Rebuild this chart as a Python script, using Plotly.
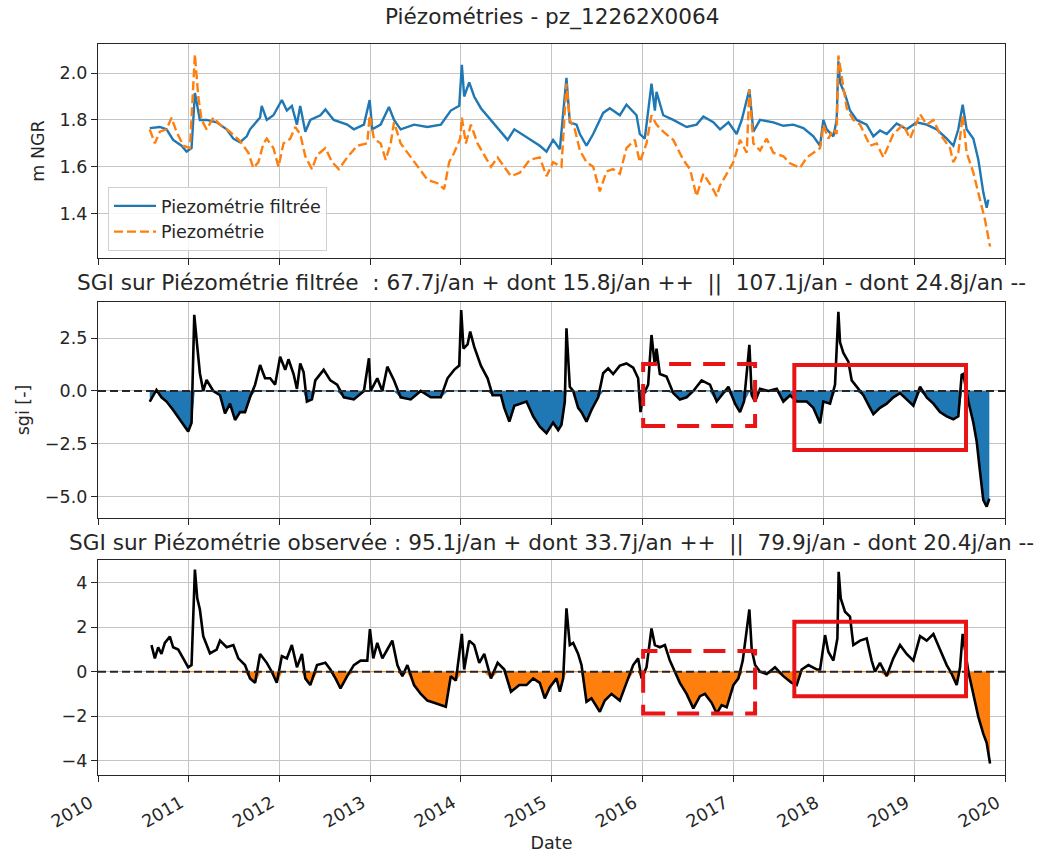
import plotly.graph_objects as go
from datetime import datetime

# ---------------- data (decimal years / values) ----------------
t_filt = [2010.571, 2010.682, 2010.756, 2010.829, 2010.922, 2010.977, 2011.032, 2011.069, 2011.124, 2011.198,
          2011.309, 2011.419, 2011.493, 2011.567, 2011.641, 2011.677, 2011.788, 2011.806, 2011.862, 2011.935,
          2012.028, 2012.083, 2012.138, 2012.194, 2012.230, 2012.286, 2012.341, 2012.452, 2012.507, 2012.599,
          2012.747, 2012.820, 2012.931, 2012.994, 2013.023, 2013.115, 2013.207, 2013.263, 2013.336, 2013.484,
          2013.631, 2013.779, 2013.889, 2013.982, 2014.011, 2014.037, 2014.092, 2014.147, 2014.221, 2014.332,
          2014.442, 2014.516, 2014.590, 2014.651, 2014.761, 2014.871, 2014.945, 2015.018, 2015.092, 2015.165,
          2015.202, 2015.276, 2015.313, 2015.386, 2015.460, 2015.570, 2015.643, 2015.754, 2015.827, 2015.938,
          2015.974, 2016.029, 2016.103, 2016.140, 2016.158, 2016.232, 2016.342, 2016.489, 2016.599, 2016.673,
          2016.783, 2016.857, 2016.949, 2017.040, 2017.096, 2017.180, 2017.224, 2017.298, 2017.445, 2017.555,
          2017.665, 2017.776, 2017.886, 2017.960, 2017.996, 2018.033, 2018.107, 2018.143, 2018.162, 2018.180,
          2018.235, 2018.290, 2018.364, 2018.474, 2018.548, 2018.621, 2018.695, 2018.805, 2018.915, 2019.026,
          2019.136, 2019.246, 2019.357, 2019.430, 2019.485, 2019.533, 2019.577, 2019.651, 2019.706, 2019.761,
          2019.798, 2019.816]
piezo_filt = [1.765, 1.77, 1.76, 1.715, 1.69, 1.665, 1.68, 1.915, 1.80, 1.80,
              1.79, 1.76, 1.72, 1.705, 1.73, 1.76, 1.81, 1.86, 1.80, 1.82,
              1.885, 1.84, 1.86, 1.78, 1.86, 1.75, 1.80, 1.82, 1.845, 1.80,
              1.78, 1.76, 1.78, 1.885, 1.76, 1.78, 1.855, 1.80, 1.76, 1.78,
              1.77, 1.78, 1.84, 1.86, 2.035, 1.90, 1.96, 1.90, 1.85, 1.80,
              1.75, 1.715, 1.76, 1.745, 1.715, 1.69, 1.665, 1.715, 1.675, 1.98,
              1.79, 1.78, 1.74, 1.69, 1.74, 1.83, 1.85, 1.82, 1.865, 1.82,
              1.74, 1.72, 1.955, 1.84, 1.92, 1.82, 1.80, 1.77, 1.78, 1.815,
              1.79, 1.76, 1.79, 1.74, 1.80, 1.93, 1.75, 1.80, 1.79, 1.775,
              1.78, 1.765, 1.73, 1.69, 1.80, 1.76, 1.73, 1.80, 2.05, 1.96,
              1.91, 1.84, 1.80, 1.78, 1.73, 1.755, 1.74, 1.785, 1.76, 1.79,
              1.78, 1.76, 1.72, 1.69, 1.76, 1.865, 1.76, 1.72, 1.63, 1.49,
              1.425, 1.46]

t_obs = [2010.571, 2010.627, 2010.682, 2010.756, 2010.811, 2010.866, 2010.940, 2011.014, 2011.069, 2011.106,
         2011.143, 2011.198, 2011.272, 2011.346, 2011.456, 2011.567, 2011.659, 2011.714, 2011.770, 2011.825,
         2011.862, 2011.935, 2011.991, 2012.046, 2012.120, 2012.175, 2012.230, 2012.286, 2012.359, 2012.415,
         2012.507, 2012.581, 2012.654, 2012.747, 2012.857, 2012.968, 2012.994, 2013.041, 2013.115, 2013.171,
         2013.226, 2013.263, 2013.336, 2013.410, 2013.521, 2013.631, 2013.742, 2013.816, 2013.871, 2013.926,
         2013.993, 2014.011, 2014.055, 2014.111, 2014.184, 2014.332, 2014.406, 2014.479, 2014.553, 2014.651,
         2014.761, 2014.871, 2014.945, 2015.018, 2015.110, 2015.165, 2015.202, 2015.257, 2015.313, 2015.386,
         2015.460, 2015.533, 2015.607, 2015.680, 2015.754, 2015.827, 2015.919, 2015.974, 2016.048, 2016.103,
         2016.158, 2016.232, 2016.342, 2016.452, 2016.526, 2016.599, 2016.673, 2016.765, 2016.820, 2016.857,
         2016.930, 2017.004, 2017.077, 2017.151, 2017.180, 2017.224, 2017.298, 2017.371, 2017.445, 2017.555,
         2017.629, 2017.739, 2017.813, 2017.886, 2017.960, 2017.996, 2018.051, 2018.107, 2018.143, 2018.162,
         2018.199, 2018.254, 2018.327, 2018.401, 2018.511, 2018.585, 2018.658, 2018.768, 2018.879, 2018.952,
         2019.063, 2019.136, 2019.210, 2019.283, 2019.393, 2019.430, 2019.485, 2019.533, 2019.577, 2019.651,
         2019.724, 2019.779, 2019.835]
piezo_obs = [1.76, 1.70, 1.75, 1.76, 1.81, 1.75, 1.69, 1.68, 2.08, 1.90,
             1.80, 1.76, 1.81, 1.78, 1.75, 1.71, 1.66, 1.595, 1.62, 1.70,
             1.72, 1.68, 1.60, 1.70, 1.72, 1.77, 1.74, 1.645, 1.59, 1.65,
             1.68, 1.62, 1.59, 1.64, 1.69, 1.70, 1.82, 1.72, 1.70, 1.63,
             1.70, 1.79, 1.70, 1.66, 1.60, 1.545, 1.53, 1.505, 1.62, 1.66,
             1.72, 1.81, 1.70, 1.78, 1.70, 1.60, 1.64, 1.60, 1.56, 1.575,
             1.63, 1.64, 1.56, 1.62, 1.60, 1.955, 1.80, 1.76, 1.67, 1.62,
             1.60, 1.495, 1.58, 1.59, 1.57, 1.68, 1.715, 1.62, 1.70, 1.82,
             1.78, 1.75, 1.715, 1.63, 1.59, 1.475, 1.57, 1.515, 1.475, 1.52,
             1.57, 1.62, 1.715, 1.66, 1.93, 1.70, 1.67, 1.72, 1.66, 1.645,
             1.615, 1.595, 1.64, 1.66, 1.68, 1.78, 1.72, 1.76, 1.74, 2.075,
             1.98, 1.85, 1.80, 1.78, 1.69, 1.70, 1.64, 1.74, 1.78, 1.72,
             1.825, 1.78, 1.80, 1.74, 1.68, 1.62, 1.66, 1.82, 1.66, 1.575,
             1.46, 1.375, 1.26]

t_sgi_filt = [2010.571, 2010.645, 2010.700, 2010.756, 2010.829, 2010.903, 2010.959, 2010.995, 2011.032, 2011.062,
              2011.088, 2011.124, 2011.161, 2011.198, 2011.272, 2011.346, 2011.401, 2011.456, 2011.512, 2011.567,
              2011.622, 2011.677, 2011.733, 2011.788, 2011.843, 2011.899, 2011.954, 2012.009, 2012.065, 2012.101,
              2012.157, 2012.194, 2012.230, 2012.267, 2012.304, 2012.359, 2012.396, 2012.488, 2012.562, 2012.636,
              2012.710, 2012.820, 2012.931, 2012.986, 2013.005, 2013.078, 2013.134, 2013.189, 2013.263, 2013.336,
              2013.447, 2013.558, 2013.668, 2013.779, 2013.853, 2013.926, 2013.982, 2014.004, 2014.029, 2014.074,
              2014.103, 2014.147, 2014.221, 2014.295, 2014.350, 2014.442, 2014.479, 2014.535, 2014.590, 2014.651,
              2014.724, 2014.798, 2014.871, 2014.945, 2015.018, 2015.074, 2015.110, 2015.147, 2015.165, 2015.202,
              2015.239, 2015.294, 2015.331, 2015.386, 2015.441, 2015.515, 2015.570, 2015.625, 2015.680, 2015.754,
              2015.827, 2015.901, 2015.956, 2015.982, 2016.011, 2016.066, 2016.103, 2016.140, 2016.158, 2016.195,
              2016.268, 2016.342, 2016.415, 2016.489, 2016.563, 2016.654, 2016.746, 2016.820, 2016.893, 2016.949,
              2017.022, 2017.077, 2017.121, 2017.180, 2017.206, 2017.243, 2017.298, 2017.390, 2017.482, 2017.555,
              2017.629, 2017.702, 2017.813, 2017.886, 2017.960, 2017.996, 2018.070, 2018.125, 2018.162, 2018.180,
              2018.217, 2018.272, 2018.309, 2018.364, 2018.438, 2018.511, 2018.548, 2018.621, 2018.695, 2018.768,
              2018.842, 2018.915, 2018.989, 2019.063, 2019.136, 2019.210, 2019.283, 2019.357, 2019.430, 2019.485,
              2019.522, 2019.540, 2019.596, 2019.651, 2019.688, 2019.724, 2019.761, 2019.798, 2019.827]
sgi_filt = [-0.5, 0.05, -0.3, -0.5, -0.9, -1.37, -1.69, -1.92, -1.5, 3.6,
            2.41, 0.84, 0.0, 0.52, 0.0, -0.2, -1.06, -0.6, -1.37, -1.0,
            -1.0, -0.3, 0.3, 1.23, 0.6, 0.6, 0.3, 1.62, 1.0, 1.5,
            0.8, 0.1, 1.3, 0.9, -0.5, -0.4, 0.5, 1.0, 0.5, 0.3,
            -0.3, -0.4, 0.0, 1.55, 0.0, 0.6, 0.0, 1.15, 0.5, -0.3,
            -0.4, 0.0, -0.3, -0.3, 0.6, 1.0, 1.2, 3.83, 2.0, 2.2,
            2.81, 2.1, 1.2, 0.6, -0.2, -0.2, -0.8, -1.45, -0.7, -0.6,
            -0.5, -1.2, -1.69, -2.0, -1.5, -1.85, -1.6, -0.5, 2.97, 0.2,
            0.0, -0.8, -1.0, -1.45, -0.9, -0.3, 0.84, 1.07, 0.8, 1.2,
            1.3, 1.1, 0.6, -1.0, -0.2, 0.3, 2.65, 1.2, 2.0, 0.8,
            0.68, -0.1, -0.4, -0.3, 0.0, 0.5, 0.3, -0.5, -0.1, 0.2,
            -0.6, -1.0, -0.5, 2.18, -0.2, -0.5, 0.1, 0.0, 0.1, -0.5,
            -0.2, -0.5, -0.5, -0.8, -1.53, -0.5, -0.6, 0.3, 3.75, 2.3,
            1.8, 1.39, 0.5, 0.2, -0.2, -0.8, -1.1, -0.8, -0.6, -0.3,
            -0.1, -0.4, -0.7, 0.2, -0.3, -0.6, -1.0, -1.2, -1.34, -1.2,
            0.76, 0.8, -0.5, -1.5, -2.4, -3.8, -5.16, -5.47, -5.1]

t_sgi_obs = [2010.590, 2010.627, 2010.664, 2010.700, 2010.737, 2010.793, 2010.829, 2010.885, 2010.940, 2010.995,
             2011.032, 2011.069, 2011.095, 2011.124, 2011.161, 2011.235, 2011.309, 2011.346, 2011.419, 2011.493,
             2011.548, 2011.622, 2011.677, 2011.733, 2011.788, 2011.862, 2011.917, 2011.972, 2012.028, 2012.083,
             2012.138, 2012.194, 2012.249, 2012.286, 2012.341, 2012.415, 2012.507, 2012.562, 2012.618, 2012.673,
             2012.747, 2012.820, 2012.894, 2012.968, 2012.997, 2013.034, 2013.078, 2013.134, 2013.189, 2013.244,
             2013.300, 2013.355, 2013.410, 2013.484, 2013.558, 2013.631, 2013.705, 2013.779, 2013.834, 2013.889,
             2013.945, 2014.011, 2014.037, 2014.092, 2014.147, 2014.203, 2014.258, 2014.332, 2014.406, 2014.479,
             2014.553, 2014.645, 2014.724, 2014.798, 2014.871, 2014.926, 2014.982, 2015.055, 2015.092, 2015.129,
             2015.165, 2015.202, 2015.239, 2015.294, 2015.331, 2015.386, 2015.441, 2015.533, 2015.588, 2015.662,
             2015.754, 2015.827, 2015.901, 2015.956, 2015.993, 2016.048, 2016.103, 2016.140, 2016.195, 2016.250,
             2016.305, 2016.360, 2016.415, 2016.489, 2016.563, 2016.636, 2016.691, 2016.765, 2016.820, 2016.875,
             2016.930, 2017.004, 2017.059, 2017.107, 2017.180, 2017.206, 2017.243, 2017.298, 2017.371, 2017.463,
             2017.555, 2017.647, 2017.702, 2017.757, 2017.831, 2017.923, 2017.960, 2018.015, 2018.051, 2018.107,
             2018.151, 2018.165, 2018.188, 2018.235, 2018.290, 2018.327, 2018.401, 2018.474, 2018.529, 2018.566,
             2018.621, 2018.695, 2018.768, 2018.842, 2018.915, 2018.989, 2019.063, 2019.136, 2019.210, 2019.283,
             2019.357, 2019.412, 2019.467, 2019.504, 2019.533, 2019.596, 2019.651, 2019.706, 2019.761, 2019.798,
             2019.835]
sgi_obs = [1.2, 0.6, 1.1, 0.8, 1.3, 1.58, 1.1, 1.0, 0.6, 0.2,
           0.3, 4.6, 3.3, 2.8, 1.6, 0.83, 1.0, 1.4, 1.1, 1.2,
           0.6, 0.3, -0.3, -0.5, 0.8, 0.4, 0.0, -0.5, 0.7, 0.6,
           1.2, 0.2, 0.8, -0.3, -0.6, 0.3, 0.4, 0.1, -0.3, -0.75,
           -0.2, 0.3, 0.5, 0.5, 1.92, 0.6, 1.3, 0.6, 1.0, 1.4,
           0.3, -0.2, 0.3, -0.6, -1.0, -1.3, -1.4, -1.5, -1.58, -0.2,
           -0.4, 1.7, 0.1, 1.4, 1.2, 0.4, 0.8, -0.3, 0.4, 0.1,
           -0.9, -0.6, -0.6, -0.3, -0.5, -1.2, -0.7, -0.3, -0.9, -0.3,
           2.85, 1.2, 1.3, 0.8, 0.3, -1.35, -1.2, -1.8, -1.3, -1.0,
           -1.3, -0.5, 0.3, 0.6, -0.3, 0.2, 1.95, 1.2, 1.1, 1.2,
           0.5, 0.0, -0.5, -1.0, -1.65, -1.1, -1.0, -1.4, -1.88, -1.5,
           -1.6, -0.6, -0.3, 0.5, 2.8, 1.0, 0.3, 0.0, -0.1, 0.2,
           -0.2, -0.5, -0.6, 0.1, 0.3, 0.1, 0.1, 1.65, 0.9, 0.5,
           1.5, 4.5, 3.3, 2.7, 2.48, 1.2, 1.4, 1.5, 0.5, 0.0,
           0.4, -0.2, 0.6, 1.2, 0.8, 0.5, 1.6, 1.4, 1.7, 1.0,
           0.3, -0.1, -0.6, 0.2, 1.7, 0.0, -1.0, -2.03, -2.8, -3.2,
           -4.13]

TITLE_TOP = "Piézométries - pz_12262X0064"
TITLE_MID = "SGI sur Piézométrie filtrée  : 67.7j/an + dont 15.8j/an ++  ||  107.1j/an - dont 24.8j/an --"
TITLE_BOT = "SGI sur Piézométrie observée : 95.1j/an + dont 33.7j/an ++  ||  79.9j/an - dont 20.4j/an --"


def to_date(y):
    yr = int(y)
    start = datetime(yr, 1, 1)
    end = datetime(yr + 1, 1, 1)
    return start + (end - start) * (y - yr)


C0 = "#1f77b4"
C1 = "#ff7f0e"
RED = "rgb(232,20,22)"
INK = "#262626"
W, H = 1038, 853
FONT = "DejaVu Sans"
FS = 17.5
FT = 21.6

d_filt = [to_date(t) for t in t_filt]
d_obs = [to_date(t) for t in t_obs]
d_sf = [to_date(t) for t in t_sgi_filt]
d_so = [to_date(t) for t in t_sgi_obs]

fig = go.Figure()
# top panel
fig.add_trace(go.Scatter(x=d_filt, y=piezo_filt, mode="lines", name="Piezométrie filtrée",
                         line=dict(color=C0, width=2.4), xaxis="x", yaxis="y"))
fig.add_trace(go.Scatter(x=d_obs, y=piezo_obs, mode="lines", name="Piezométrie",
                         line=dict(color=C1, width=2.4, dash="9px,4px"), xaxis="x", yaxis="y"))
# middle panel
fig.add_trace(go.Scatter(x=d_sf, y=[min(v, 0) for v in sgi_filt], mode="lines", fill="tozeroy",
                         fillcolor=C0, line=dict(color=C0, width=1), showlegend=False,
                         xaxis="x2", yaxis="y2", hoverinfo="skip"))
fig.add_trace(go.Scatter(x=d_sf, y=sgi_filt, mode="lines", line=dict(color="black", width=2.6),
                         showlegend=False, xaxis="x2", yaxis="y2"))
# bottom panel
fig.add_trace(go.Scatter(x=d_so, y=[min(v, 0) for v in sgi_obs], mode="lines", fill="tozeroy",
                         fillcolor=C1, line=dict(color=C1, width=1), showlegend=False,
                         xaxis="x3", yaxis="y3", hoverinfo="skip"))
fig.add_trace(go.Scatter(x=d_so, y=sgi_obs, mode="lines", line=dict(color="black", width=2.6),
                         showlegend=False, xaxis="x3", yaxis="y3"))


def px(x):
    return x / W


def py(y):
    return 1 - y / H


XD = [px(98), px(1005)]


def ydom(top, bot):
    return [py(bot), py(top)]


axis_common = dict(showgrid=True, gridcolor="#c4c4c4", gridwidth=1, showline=True, mirror=True,
                   linecolor=INK, linewidth=1.3, ticks="outside", ticklen=6, tickcolor=INK,
                   zeroline=False, automargin=False, tickfont=dict(family=FONT, size=FS, color=INK))
xcommon = dict(axis_common, type="date", range=["2010-01-01", "2020-01-01"], dtick="M12",
               tickformat="%Y", domain=XD)
tfont = dict(family=FONT, size=FS, color=INK)

fig.update_layout(
    width=W, height=H, autosize=False,
    margin=dict(l=0, r=0, t=0, b=0),
    paper_bgcolor="white", plot_bgcolor="white",
    font=dict(family=FONT, size=FS, color=INK),
    xaxis=dict(xcommon, anchor="y", showticklabels=False),
    xaxis2=dict(xcommon, anchor="y2", showticklabels=False, matches="x"),
    xaxis3=dict(xcommon, anchor="y3", matches="x", tickangle=-30,
                ticklabelshift=-8, ticklabelstandoff=4,
                title=dict(text="Date", font=tfont, standoff=14)),
    yaxis=dict(axis_common, anchor="x", domain=ydom(44, 258), range=[1.211, 2.124],
               tickvals=[1.4, 1.6, 1.8, 2.0], ticktext=["1.4", "1.6", "1.8", "2.0"],
               title=dict(text="m NGR", font=tfont, standoff=10)),
    yaxis2=dict(axis_common, anchor="x2", domain=ydom(302, 518), range=[-6.01, 4.21],
                tickvals=[-5, -2.5, 0, 2.5], ticktext=["\u22125.0", "\u22122.5", "0.0", "2.5"],
                title=dict(text="sgi [-]", font=tfont, standoff=10)),
    yaxis3=dict(axis_common, anchor="x3", domain=ydom(560, 775), range=[-4.65, 5.03],
                tickvals=[-4, -2, 0, 2, 4], ticktext=["\u22124", "\u22122", "0", "2", "4"]),
    legend=dict(x=px(108), y=py(187), xanchor="left", yanchor="top",
                bgcolor="rgba(255,255,255,0.85)", bordercolor="#d0d0d0", borderwidth=1,
                itemwidth=42, font=dict(family=FONT, size=FS, color=INK), tracegroupgap=0),
    showlegend=True,
)

CX = (XD[0] + XD[1]) / 2
for txt, ypix in [(TITLE_TOP, 17), (TITLE_MID, 283), (TITLE_BOT, 543)]:
    fig.add_annotation(text=txt, x=CX, y=py(ypix), xref="paper", yref="paper",
                       xanchor="center", yanchor="middle", showarrow=False,
                       font=dict(family=FONT, size=FT, color=INK))

# zero reference lines
for xr, yr in [("x2 domain", "y2"), ("x3 domain", "y3")]:
    fig.add_shape(type="line", xref=xr, yref=yr, x0=0, x1=1, y0=0, y1=0,
                  line=dict(color=INK, width=2, dash="8px,4px"))

# red highlight boxes
boxes = [
    ("x2", "y2", 2016.011, 2017.243, -1.66, 1.28, "22px,12px"),
    ("x2", "y2", 2017.676, 2019.570, -2.79, 1.23, "solid"),
    ("x3", "y3", 2016.011, 2017.243, -1.88, 0.93, "22px,12px"),
    ("x3", "y3", 2017.676, 2019.570, -1.10, 2.25, "solid"),
]
for xr, yr, xa, xb, ya, yb, dsh in boxes:
    fig.add_shape(type="rect", xref=xr, yref=yr, x0=to_date(xa), x1=to_date(xb), y0=ya, y1=yb,
                  line=dict(color=RED, width=4, dash=dsh), fillcolor="rgba(0,0,0,0)")

fig.write_html("out.html", config={"displayModeBar": False},
               post_script="document.body.style.margin='0';document.body.style.overflow='hidden';")
